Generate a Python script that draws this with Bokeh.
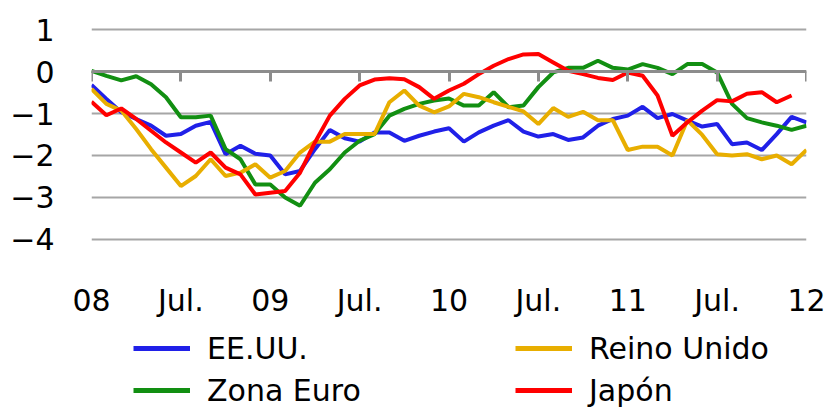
import numpy as np
from bokeh.plotting import figure
from bokeh.layouts import column
from bokeh.models import Range1d, FixedTicker, LinearAxis, Legend, LegendItem
from bokeh.embed import file_html
from bokeh.resources import INLINE

months = list(range(49))  # Jan 2008 .. Jan 2012
x_tick_pos = [0, 6, 12, 18, 24, 30, 36, 42, 48]
x_tick_labels = ["08", "Jul.", "09", "Jul.", "10", "Jul.", "11", "Jul.", "12"]
y_ticks = [-4, -3, -2, -1, 0, 1]
y_tick_labels = ["\u22124", "\u22123", "\u22122", "\u22121", "0", "1"]

eeuu = [-0.32, -0.65, -0.97, -1.13, -1.29, -1.53, -1.49, -1.29, -1.20, -1.97,
        -1.77, -1.96, -2.00, -2.45, -2.37, -1.85, -1.39, -1.59, -1.67, -1.45,
        -1.45, -1.65, -1.53, -1.43, -1.35, -1.67, -1.45, -1.29, -1.16, -1.43,
        -1.55, -1.49, -1.63, -1.57, -1.29, -1.13, -1.05, -0.84, -1.11, -1.01,
        -1.17, -1.31, -1.25, -1.73, -1.69, -1.87, -1.49, -1.08, -1.21]
zona_euro = [0.02, -0.10, -0.21, -0.11, -0.30, -0.61, -1.09, -1.09, -1.05, -1.85,
             -2.09, -2.69, -2.69, -3.00, -3.20, -2.65, -2.33, -1.93, -1.65, -1.49,
             -1.05, -0.89, -0.77, -0.69, -0.64, -0.81, -0.81, -0.49, -0.85, -0.81,
             -0.37, -0.02, 0.09, 0.09, 0.26, 0.09, 0.05, 0.18, 0.09, -0.06,
             0.18, 0.18, -0.02, -0.77, -1.11, -1.21, -1.29, -1.39, -1.29]
reino_unido = [-0.41, -0.77, -0.93, -1.37, -1.85, -2.29, -2.73, -2.49, -2.09, -2.49,
               -2.41, -2.21, -2.53, -2.37, -1.93, -1.67, -1.67, -1.49, -1.49, -1.49,
               -0.73, -0.45, -0.81, -0.97, -0.83, -0.53, -0.61, -0.73, -0.84, -0.95,
               -1.25, -0.87, -1.08, -0.96, -1.16, -1.16, -1.87, -1.79, -1.79, -2.00,
               -1.16, -1.51, -1.97, -2.00, -1.97, -2.09, -2.00, -2.21, -1.87]
japon = [-0.72, -1.04, -0.88, -1.13, -1.41, -1.69, -1.93, -2.17, -1.93, -2.29,
         -2.45, -2.93, -2.89, -2.85, -2.41, -1.69, -1.05, -0.65, -0.33, -0.19,
         -0.16, -0.18, -0.37, -0.65, -0.45, -0.29, -0.06, 0.14, 0.30, 0.41,
         0.42, 0.22, 0.02, -0.06, -0.15, -0.20, -0.02, -0.10, -0.57, -1.53,
         -1.21, -0.93, -0.68, -0.71, -0.53, -0.49, -0.73, -0.57, np.nan]

series_names = ["EE.UU.", "Zona Euro", "Reino Unido", "Japón"]
series_values = [eeuu, zona_euro, reino_unido, japon]
series_colors = ["#2020e8", "#128f12", "#e8ae00", "#ff0000"]

FONT = "DejaVu Sans"
FS = "30px"
LW = 4

# ---------------- main chart ----------------
p = figure(width=827, height=325, x_range=Range1d(0, 48), y_range=Range1d(-4.1, 1.1),
           output_backend="svg", toolbar_location=None,
           min_border_left=91, min_border_right=21, min_border_top=25, min_border_bottom=82)
p.outline_line_color = None

p.xgrid.grid_line_color = None
p.ygrid.ticker = FixedTicker(ticks=y_ticks)
p.ygrid.grid_line_color = "#a6a6a6"
p.ygrid.grid_line_width = 2

yax = p.yaxis[0]
yax.ticker = FixedTicker(ticks=y_ticks)
yax.major_label_overrides = {t: l for t, l in zip(y_ticks, y_tick_labels)}
yax.axis_line_color = None
yax.major_tick_line_color = None
yax.minor_tick_line_color = None
yax.major_tick_out = 0
yax.major_label_standoff = 37
yax.major_label_text_font = FONT
yax.major_label_text_font_size = FS
yax.major_label_text_color = "black"

xax = p.xaxis[0]
xax.ticker = FixedTicker(ticks=x_tick_pos)
xax.major_label_overrides = {t: l for t, l in zip(x_tick_pos, x_tick_labels)}
xax.axis_line_color = None
xax.major_tick_line_color = None
xax.minor_tick_line_color = None
xax.major_tick_out = 0
xax.major_label_standoff = 39
xax.major_label_text_font = FONT
xax.major_label_text_font_size = FS
xax.major_label_text_color = "black"

# zero line with downward tick marks
zax = LinearAxis(fixed_location=0, ticker=FixedTicker(ticks=x_tick_pos))
zax.axis_line_color = "#8c8c8c"
zax.axis_line_width = 3
zax.major_tick_line_color = "#8c8c8c"
zax.major_tick_line_width = 3
zax.major_tick_in = 10
zax.major_tick_out = 0
zax.minor_tick_line_color = None
zax.major_label_overrides = {t: "" for t in x_tick_pos}
zax.major_label_standoff = 0
p.add_layout(zax, "above")

for vals, col in zip(series_values, series_colors):
    p.line(months, vals, line_color=col, line_width=LW)

# ---------------- legend strip ----------------
q = figure(width=827, height=83, x_range=Range1d(100, 101), y_range=Range1d(0, 1),
           output_backend="svg", toolbar_location=None,
           x_axis_location=None, y_axis_location=None,
           min_border_left=91, min_border_right=21, min_border_top=0, min_border_bottom=0)
q.outline_line_color = None
q.grid.visible = False

legend_renderers = []
for vals, col in zip(series_values, series_colors):
    legend_renderers.append(q.line(months, vals, line_color=col, line_width=5))

def make_legend(idx, loc):
    lg = Legend(items=[LegendItem(label=series_names[i], renderers=[legend_renderers[i]]) for i in idx],
                location=loc, orientation="vertical")
    lg.label_text_font = FONT
    lg.label_text_font_size = FS
    lg.label_text_color = "black"
    lg.glyph_width = 57
    lg.glyph_height = 42
    lg.label_height = 42
    lg.label_standoff = 17
    lg.spacing = 0
    lg.padding = 0
    lg.margin = 0
    lg.border_line_color = None
    lg.background_fill_alpha = 0
    return lg

q.add_layout(make_legend([0, 1], (42, -3)), "center")
q.add_layout(make_legend([2, 3], (424, -3)), "center")

layout = column(p, q, spacing=0)
open("out.html", "w").write(file_html(layout, INLINE))
